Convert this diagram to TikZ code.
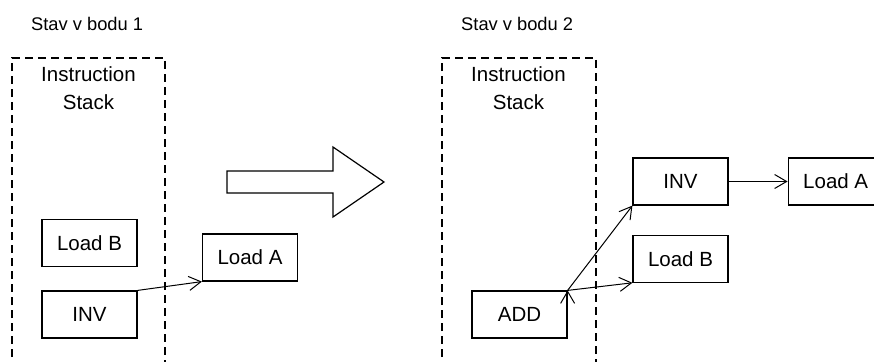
\documentclass[tikz,border=0pt]{standalone}
\usepackage{fontspec}
\setmainfont{Liberation Sans}
\usepackage{tikz}
\usetikzlibrary{arrows.meta, positioning}
\tikzset{
	node distance = 23pt,
	line width = 1pt,
	>={Straight Barb[length=12pt,width=14pt]},
	instr/.style={
		draw,
		line width=1.2pt,
		minimum width=95pt,
		minimum height=47pt,
		inner sep=0pt,
		font=\fontsize{20.5}{24}\selectfont
	},
	title/.style={
		anchor=west,
		inner sep=0pt,
		font=\fontsize{18.3}{22}\selectfont
	},
	stacklabel/.style={
		align=center,
		inner sep=0pt,
		font=\fontsize{20.5}{28}\selectfont
	},
	stackframe/.style={
		line width=1.3pt,
		dash pattern=on 8pt off 5pt
	},
	edge/.style={
		->,
		line width=1pt
	}
}

\begin{document}
\begin{tikzpicture}[x=1pt, y=-1pt]
	\useasboundingbox (0,0) rectangle (874,361);

	% state 1
	\node[title] (t1) at (31,24) {Stav v bodu 1};
	\draw[stackframe] (12,370) -- (12,58) -- (165,58) -- (165,370);
	\node[stacklabel] (s1) at (88.5,88) {Instruction\\Stack};
	\node[instr] (inv1) at (89.5,314.5) {INV};
	\node[instr] (lb1) [above=of inv1] {Load B};
	\node[instr] (la1) at (250,257.5) {Load A};

	\draw[edge] (inv1.north east) -- (la1.south west);

	% transition
	\draw[line width=1.2pt] (227,171) -- (333,171) -- (333,147) -- (384,182)
		-- (333,217) -- (333,193) -- (227,193) -- cycle;

	% state 2
	\node[title] (t2) at (461,24) {Stav v bodu 2};
	\draw[stackframe] (442,370) -- (442,58) -- (596,58) -- (596,370);
	\node[stacklabel] (s2) at (518.5,88) {Instruction\\Stack};
	\node[instr] (add) at (519.5,314.5) {ADD};
	\node[instr] (inv2) at (680.5,181.5) {INV};
	\node[instr] (lb2) [below=29pt of inv2] {Load B};
	\node[instr] (la2) [right=59pt of inv2] {Load A};

	\draw[edge] (add.north east) edge (inv2.south west)
		(add.north east) edge (lb2.south west)
		(inv2) edge (la2);
\end{tikzpicture}
\end{document}
